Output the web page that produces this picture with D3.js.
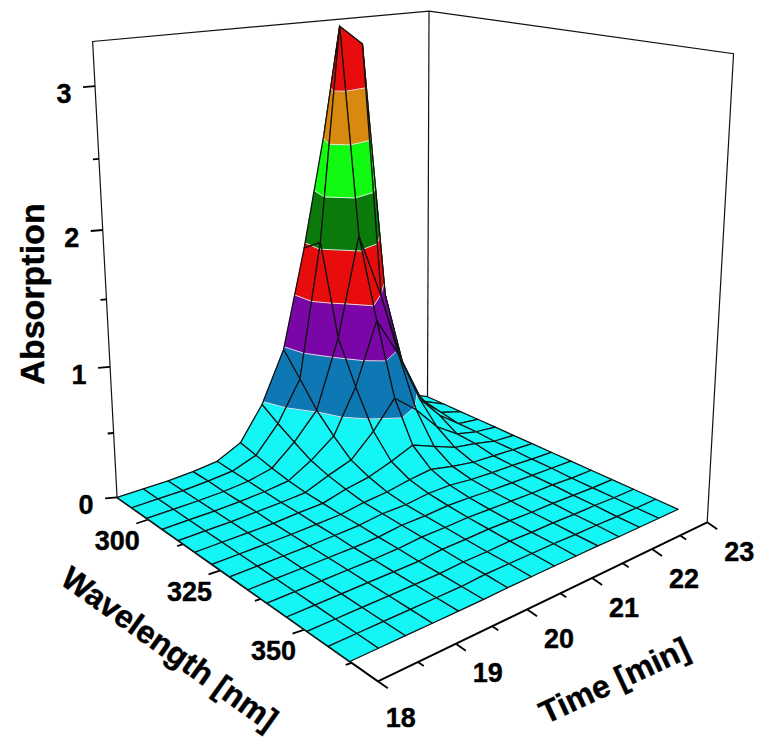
<!DOCTYPE html>
<html>
<head>
<meta charset="utf-8">
<style>
  html, body { margin: 0; padding: 0; background: #fff; }
  svg { display: block; font-family: "Liberation Sans", Arial, sans-serif; font-weight: bold; fill: #000; }
</style>
<script src="https://cdn.jsdelivr.net/npm/d3@7"></script>
</head>
<body>
<svg id="chart" width="759" height="738"></svg>
<script>
const timeNodes = [18, 18.36, 18.71, 19.07, 19.43, 19.79, 20.14, 20.5, 20.86, 21.21, 21.57, 21.93, 22.29, 22.64, 23];
const waveNodes = [288, 293.7, 299.4, 305.1, 310.8, 316.5, 322.2, 327.9, 333.6, 339.3, 345, 350.7, 356.4, 362];

// one row per time node, one value per wavelength node
const absorption = [
  [0, 0, 0, 0, 0, 0, 0, 0, 0, 0, 0, 0, 0, 0],
  [0, 0, 0, 0, 0, 0, 0, 0, 0, 0, 0, 0, 0, 0],
  [0, 0, 0, 0, 0, 0, 0, 0, 0, 0, 0, 0, 0, 0],
  [0.01, 0.01, 0.005, 0.005, 0.005, 0, 0, 0, 0, 0, 0, 0, 0, 0],
  [0.03, 0.025, 0.02, 0.015, 0.01, 0.01, 0.005, 0.005, 0, 0, 0, 0, 0, 0],
  [0.12, 0.09, 0.06, 0.035, 0.02, 0.015, 0.01, 0.01, 0.005, 0.005, 0, 0, 0, 0],
  [0.38, 0.29, 0.21, 0.135, 0.09, 0.06, 0.035, 0.03, 0.025, 0.02, 0.015, 0.01, 0.01, 0.005],
  [0.78, 0.6, 0.41, 0.27, 0.15, 0.09, 0.05, 0.03, 0.025, 0.02, 0.015, 0.01, 0.01, 0.005],
  [1.56, 1.65, 0.94, 0.61, 0.32, 0.15, 0.08, 0.05, 0.035, 0.025, 0.02, 0.015, 0.01, 0.005],
  [2.44, 3.28, 1.71, 1.09, 0.53, 0.22, 0.1, 0.05, 0.03, 0.02, 0.015, 0.01, 0.01, 0.005],
  [2.3, 3.13, 1.19, 0.77, 0.38, 0.15, 0.06, 0.03, 0.02, 0.015, 0.01, 0.01, 0.005, 0.005],
  [1.0, 1.1, 0.6, 0.35, 0.18, 0.08, 0.03, 0.02, 0.015, 0.01, 0.01, 0.005, 0.005, 0],
  [0.3, 0.3, 0.2, 0.15, 0.06, 0.05, 0.02, 0.015, 0.01, 0.01, 0.005, 0.005, 0, 0],
  [0.08, 0.08, 0.05, 0.02, 0.02, 0.01, 0.01, 0.005, 0.005, 0, 0, 0, 0, 0],
  [0, 0, 0, 0, 0, 0, 0, 0, 0, 0, 0, 0, 0, 0],
];

const bandLevels = [0.4, 0.8, 1.2, 1.6, 2, 2.4, 2.8];
const bandColors = ['#14f5f5', '#0e78b4', '#7a06a8', '#e80c0c', '#0a7a0a', '#12fa12', '#d88a10', '#e80c0c'];

const timeTicks = [18, 18.5, 19, 19.5, 20, 20.5, 21, 21.5, 22, 22.5, 23];
const waveTicks = [300, 312.5, 325, 337.5, 350, 362.5];
const zTicks = [0, 0.5, 1, 1.5, 2, 2.5, 3];
const timeLabels = [18, 19, 20, 21, 22, 23];
const waveLabels = [300, 325, 350];
const zLabels = [0, 1, 2, 3];

const timeScale = d3.scaleLinear().domain([18, 23]).range([0, 1]);
const waveScale = d3.scaleLinear().domain([288, 369]).range([0, 1]);
const zScale = d3.scaleLinear().domain([0, 3.3]).range([0, 1]);

// box corners on the page: [time, wave, z, px, py]
const boxAnchors = [
  [0, 0, 0, 116, 498],
  [0, 1, 0, 380, 680],
  [1, 1, 0, 706, 525],
  [1, 0, 0, 428, 395],
  [0, 0, 1, 92, 42],
  [1, 1, 1, 733, 52],
  [1, 0, 1, 430, 12],
];

const fitProjection = (anchors) => {
  const rows = [];
  anchors.forEach(([x, y, z, px, py]) => {
    rows.push([x, y, z, 1, 0, 0, 0, 0, -px * x, -px * y, -px * z, px]);
    rows.push([0, 0, 0, 0, x, y, z, 1, -py * x, -py * y, -py * z, py]);
  });
  const n = 11;
  const m = d3.range(n).map((a) => d3.range(n + 1).map((b) => d3.sum(rows, (r) => r[a] * r[b])));
  for (let c = 0; c < n; c++) {
    let best = c;
    for (let r = c + 1; r < n; r++) if (Math.abs(m[r][c]) > Math.abs(m[best][c])) best = r;
    [m[c], m[best]] = [m[best], m[c]];
    for (let r = 0; r < n; r++) {
      if (r === c) continue;
      const f = m[r][c] / m[c][c];
      for (let k = c; k <= n; k++) m[r][k] -= f * m[c][k];
    }
  }
  return m.map((row, i) => row[n] / row[i]);
};

const h = fitProjection(boxAnchors);
const projectUnit = (x, y, z) => {
  const w = h[8] * x + h[9] * y + h[10] * z + 1;
  return [(h[0] * x + h[1] * y + h[2] * z + h[3]) / w, (h[4] * x + h[5] * y + h[6] * z + h[7]) / w];
};
const project = (t, wl, a) => projectUnit(timeScale(t), waveScale(wl), zScale(a));

const svg = d3.select('#chart');
const line = d3.line();
const offset = (p, d) => [p[0] + d[0], p[1] + d[1]];

// walls
const frame = svg.append('g').attr('fill', 'none').attr('stroke', '#111').attr('stroke-width', 1.2);
const wallLines = [
  [[18, 288, 0], [18, 288, 3.3], [23, 288, 3.3], [23, 369, 3.3], [23, 369, 0]],
  [[23, 288, 3.3], [23, 288, 0]],
];
wallLines.forEach((pts) => {
  frame.append('path').attr('d', line(pts.map((p) => project(...p))));
});

// axes on the floor
const axes = svg.append('g').attr('fill', 'none').attr('stroke', '#000').attr('stroke-width', 2);
axes.append('path').attr('d', line([project(18, 288, 0), project(18, 369, 0), project(23, 369, 0)]));

const tickMarks = [];
zTicks.forEach((v) => {
  const p = project(18, 288, v);
  tickMarks.push([p, offset(p, Number.isInteger(v) ? [-12, 1] : [-6, 0.5])]);
});
waveTicks.forEach((v) => {
  const p = project(18, v, 0);
  tickMarks.push([p, offset(p, v % 25 === 0 ? [-12, 4] : [-6, 2])]);
});
timeTicks.forEach((v) => {
  const p = project(v, 369, 0);
  tickMarks.push([p, offset(p, Number.isInteger(v) ? [10, 7] : [6, 4])]);
});
axes.selectAll('path.tick').data(tickMarks).join('path')
  .attr('class', 'tick')
  .attr('stroke-width', 1.8)
  .attr('d', (d) => line(d));

// surface, back to front
const clipBand = (poly, lo, hi) => {
  const clip = (pts, keep, level) => {
    const out = [];
    pts.forEach((p, i) => {
      const q = pts[(i + 1) % pts.length];
      if (keep(p[2])) out.push(p);
      if (keep(p[2]) !== keep(q[2])) {
        const f = (level - p[2]) / (q[2] - p[2]);
        out.push([p[0] + f * (q[0] - p[0]), p[1] + f * (q[1] - p[1]), level]);
      }
    });
    return out;
  };
  const above = clip(poly, (z) => z >= lo, lo);
  return above.length ? clip(above, (z) => z <= hi, hi) : [];
};

const contourSegments = (poly, level) => {
  const pts = [];
  poly.forEach((p, i) => {
    const q = poly[(i + 1) % poly.length];
    if ((p[2] < level) !== (q[2] < level)) {
      const f = (level - p[2]) / (q[2] - p[2]);
      pts.push([p[0] + f * (q[0] - p[0]), p[1] + f * (q[1] - p[1]), level]);
    }
  });
  return pts.length >= 2 ? pts : [];
};

const surface = svg.append('g');
const bandEdges = [0, ...bandLevels, 4];
const toPath = (pts) => line(pts.map((p) => project(...p))) + 'Z';

for (let i = timeNodes.length - 2; i >= 0; i--) {
  for (let j = 0; j < waveNodes.length - 1; j++) {
    const quad = [
      [timeNodes[i], waveNodes[j], absorption[i][j]],
      [timeNodes[i + 1], waveNodes[j], absorption[i + 1][j]],
      [timeNodes[i + 1], waveNodes[j + 1], absorption[i + 1][j + 1]],
      [timeNodes[i], waveNodes[j + 1], absorption[i][j + 1]],
    ];
    const cell = surface.append('g');
    const pieces = bandColors
      .map((color, b) => ({ color, pts: clipBand(quad, bandEdges[b], bandEdges[b + 1]) }))
      .filter((d) => d.pts.length > 2);
    cell.selectAll('path.band').data(pieces).join('path')
      .attr('class', 'band')
      .attr('d', (d) => toPath(d.pts))
      .attr('fill', (d) => d.color)
      .attr('stroke', (d) => d.color)
      .attr('stroke-width', 0.6);
    const seams = bandLevels.map((lv) => contourSegments(quad, lv)).filter((d) => d.length);
    cell.selectAll('path.seam').data(seams).join('path')
      .attr('class', 'seam')
      .attr('d', (d) => line(d.map((p) => project(...p))))
      .attr('fill', 'none')
      .attr('stroke', '#e6f2f2')
      .attr('stroke-width', 0.9);
    cell.append('path')
      .attr('d', toPath(quad))
      .attr('fill', 'none')
      .attr('stroke', '#111')
      .attr('stroke-width', 1.25)
      .attr('stroke-linejoin', 'round');
  }
}

// labels
const labels = svg.append('g').attr('text-anchor', 'middle').attr('font-size', 27)
  .attr('stroke', '#000').attr('stroke-width', 0.4);
const addLabels = (vals, pos, d) => {
  labels.selectAll(null).data(vals).join('text')
    .attr('x', (v) => pos(v)[0] + d(v)[0])
    .attr('y', (v) => pos(v)[1] + d(v)[1])
    .attr('dy', '0.36em')
    .text((v) => v);
};
addLabels(zLabels, (v) => project(18, 288, v), () => [-31, 7]);
addLabels(waveLabels, (v) => project(18, v, 0), () => [-31, 21]);
addLabels(timeLabels, (v) => project(v, 369, 0), (v) => (v === 18 ? [23, 36] : [32, 29]));

const titles = [
  { text: 'Absorption', x: 32, y: 294, angle: -90, size: 34 },
  { text: 'Wavelength [nm]', x: 170, y: 648, angle: 35.5, size: 32 },
  { text: 'Time [min]', x: 614, y: 680, angle: -25, size: 32 },
];
svg.append('g').attr('stroke', '#000').attr('stroke-width', 0.4)
  .selectAll('text').data(titles).join('text')
  .attr('text-anchor', 'middle')
  .attr('dy', '0.36em')
  .attr('font-size', (d) => d.size)
  .attr('transform', (d) => `translate(${d.x},${d.y}) rotate(${d.angle})`)
  .text((d) => d.text);
</script>
</body>
</html>
